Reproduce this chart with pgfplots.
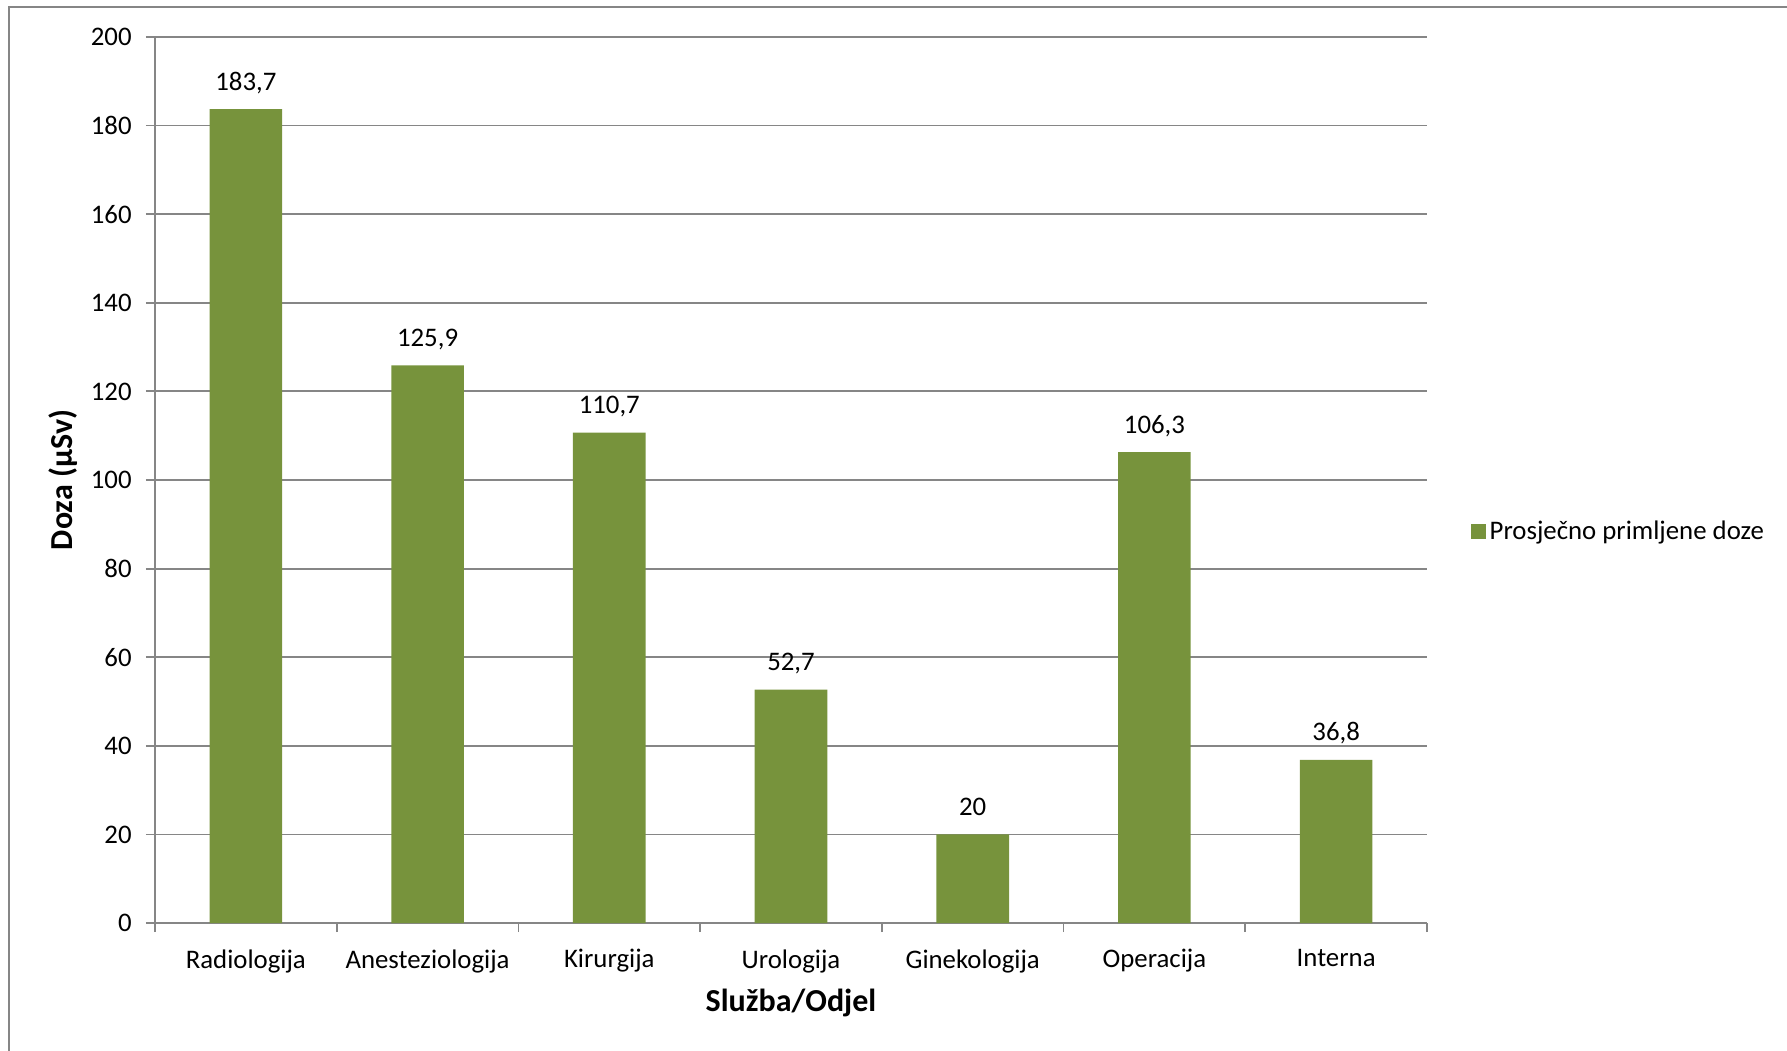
\documentclass[border=0pt]{standalone}
\usepackage{pgfplots}
\pgfplotsset{compat=1.18}
\usepackage{fontspec}
\setmainfont{Carlito}
\definecolor{bargreen}{RGB}{119,147,60}
\definecolor{gridgray}{RGB}{134,134,134}

\begin{document}
\begin{tikzpicture}
\begin{axis}[
  at={(0,0)}, anchor=south west,
  scale only axis, width=636pt, height=443pt,
  xmin=-0.5, xmax=6.5, ymin=0, ymax=200,
  ytick={0,20,...,200},
  xtick={0,...,6},
  xticklabels={Radiologija,Anesteziologija,Kirurgija,Urologija,Ginekologija,Operacija,Interna},
  minor xtick={-0.5,0.5,...,6.5},
  major x tick style={draw=none},
  tick align=outside, major tick length=4.5pt, minor tick length=4.5pt,
  tick style={gridgray, line width=0.9pt},
  axis x line*=bottom, axis y line*=left,
  axis line style={gridgray, line width=0.9pt, -},
  ymajorgrids, grid style={gridgray, line width=0.9pt},
  ybar, bar width=36.3pt, bar shift=0pt,
  ticklabel style={font=\fontsize{13.4}{16}\selectfont},
  /pgf/number format/assume math mode=true,
  yticklabel style={inner sep=0pt, xshift=-7pt},
  xticklabel style={inner sep=0pt, anchor=north, yshift=-8.5pt},
  xlabel={\textbf{Služba/Odjel}},
  ylabel={\textbf{Doza (µSv)}},
  label style={font=\fontsize{16}{19}\selectfont},
  xlabel style={at={(axis description cs:0.5,0)}, anchor=center, yshift=-40pt},
  ylabel style={at={(axis description cs:0,0.5)}, anchor=center, yshift=46pt},
  nodes near coords,
  every node near coord/.append style={font=\fontsize{13.4}{16}\selectfont, black, anchor=base, inner sep=0pt, yshift=9.5pt, /pgf/number format/use comma, /pgf/number format/assume math mode=true},
  legend style={draw=none, at={(1.034,0.442)}, anchor=west, inner sep=0pt, font=\fontsize{13.4}{16}\selectfont},
  legend image code/.code={\fill[bargreen] (0pt,-3.7pt) rectangle (7.5pt,3.7pt);},
]
\addplot[fill=bargreen, draw=none] coordinates {
  (0,183.7) (1,125.9) (2,110.7) (3,52.7) (4,20) (5,106.3) (6,36.8)
};
\addlegendentry{Prosječno primljene doze}
\end{axis}
\draw[gridgray, line width=0.9pt] (-73pt,-70pt) -- (-73pt,458pt) -- (830pt,458pt);
\pgfresetboundingbox
\useasboundingbox (-77.5pt,-63.5pt) rectangle (816pt,461.5pt);
\end{tikzpicture}
\end{document}
